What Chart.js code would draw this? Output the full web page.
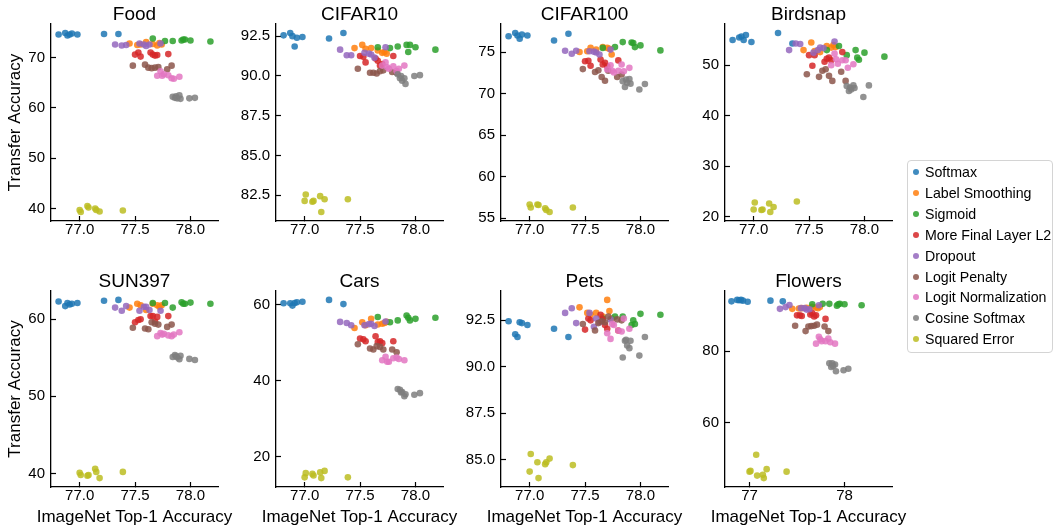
<!DOCTYPE html>
<html>
<head>
<meta charset="utf-8">
<script src="https://cdn.jsdelivr.net/npm/chart.js@4.4.0/dist/chart.umd.min.js"></script>
<style>
  body { margin: 0; background: #fff; width: 1055px; height: 529px; position: relative; overflow: hidden;
         font-family: "Liberation Sans", Arial, Helvetica, sans-serif; }
  .panel { position: absolute; }
  #legend { position: absolute; left: 907px; top: 160px; width: 146px; height: 193px;
            border: 1px solid #d4d4d4; border-radius: 4px; box-sizing: border-box; background: #fff; }
  #legend .item { position: absolute; left: 17px; font-size: 14.2px; color: #000; line-height: 16px; white-space: nowrap; }
  #legend .dot { position: absolute; left: 5px; width: 6px; height: 6px; border-radius: 50%; }
</style>
</head>
<body>
<script>
// loss functions, in plotting order
const methods = ['Softmax', 'Label Smoothing', 'Sigmoid', 'More Final Layer L2', 'Dropout',
                 'Logit Penalty', 'Logit Normalization', 'Cosine Softmax', 'Squared Error'];
const colors = ['31,119,180', '255,127,14', '44,160,44', '214,39,40', '148,103,189',
                '140,86,75', '227,119,194', '127,127,127', '188,189,34'];

// ImageNet top-1 accuracy of each trained model (same models in every panel)
const imagenetAcc = [
  [76.81, 76.87, 76.89, 76.91, 76.93, 76.98, 77.22, 77.35],
  [77.45, 77.52, 77.55, 77.60, 77.66, 77.70, 77.72, 77.74],
  [77.66, 77.77, 77.84, 77.92, 77.935, 77.95, 78.00, 78.18],
  [77.50, 77.53, 77.55, 77.64, 77.66, 77.68, 77.70, 77.80],
  [77.32, 77.38, 77.42, 77.54, 77.58, 77.60, 77.63, 77.73],
  [77.48, 77.59, 77.62, 77.65, 77.68, 77.71, 77.79, 77.83],
  [77.70, 77.73, 77.745, 77.76, 77.80, 77.83, 77.85, 77.90],
  [77.84, 77.86, 77.87, 77.88, 77.90, 77.91, 77.99, 78.04],
  [77.00, 77.01, 77.07, 77.08, 77.14, 77.15, 77.18, 77.39]
];

// transfer accuracy, one row per loss
const foodAcc = [
  [74.6, 74.9, 74.4, 74.6, 74.8, 74.6, 74.7, 74.7],
  [72.8, 72.5, 72.6, 73.1, 72.7, 72.4, 72.9, 72.6],
  [73.8, 73.3, 73.3, 73.4, 73.6, 73.6, 73.4, 73.2],
  [70.6, 71.0, 70.2, 71.0, 70.6, 70.4, 70.5, 70.7],
  [72.6, 72.4, 72.5, 72.8, 72.6, 72.3, 72.6, 72.8],
  [68.4, 68.6, 68.0, 67.9, 68.0, 68.1, 67.7, 68.4],
  [66.4, 67.3, 66.4, 66.7, 66.5, 65.9, 65.8, 66.2],
  [62.2, 62.0, 62.3, 61.9, 62.5, 61.8, 61.9, 62.0],
  [39.7, 39.3, 40.5, 40.2, 40.0, 39.7, 39.4, 39.6]
];
const cifar10Acc = [
  [92.55, 92.7, 92.5, 91.85, 92.4, 92.45, 92.35, 92.7],
  [91.75, 91.95, 91.7, 91.75, 91.6, 91.45, 91.5, 91.4],
  [91.8, 91.75, 91.85, 91.95, 91.5, 91.95, 91.8, 91.65],
  [91.25, 91.2, 90.85, 91.1, 90.95, 90.65, 90.75, 91.25],
  [91.65, 91.3, 91.3, 91.45, 91.4, 91.35, 91.15, 91.8],
  [90.45, 90.2, 90.2, 90.15, 90.3, 90.35, 90.25, 90.2],
  [90.65, 90.85, 90.55, 90.45, 90.6, 90.3, 90.45, 90.65],
  [90.1, 89.85, 90.0, 89.7, 89.85, 89.5, 90.0, 90.05],
  [82.15, 82.55, 82.1, 82.15, 82.45, 81.45, 82.25, 82.25]
];
const cifar100Acc = [
  [76.9, 77.3, 77.0, 76.6, 77.1, 77.0, 76.4, 77.2],
  [75.0, 75.1, 75.5, 75.3, 75.6, 75.5, 75.4, 74.7],
  [75.5, 75.6, 76.2, 76.15, 76.1, 75.6, 75.8, 75.2],
  [73.9, 73.95, 73.35, 74.1, 73.5, 73.7, 73.3, 74.0],
  [75.15, 74.8, 75.15, 75.1, 75.05, 74.95, 74.7, 75.3],
  [72.95, 72.6, 72.8, 72.0, 71.55, 72.75, 72.0, 72.3],
  [72.9, 73.4, 72.75, 72.55, 72.75, 73.5, 72.7, 73.1],
  [71.5, 70.8, 71.7, 71.3, 71.75, 71.2, 70.5, 71.15],
  [56.65, 56.3, 56.65, 56.6, 56.2, 56.0, 55.75, 56.3]
];
const birdsnapAcc = [
  [55.0, 55.5, 55.7, 55.0, 56.0, 54.6, 56.4, 54.3],
  [53.0, 54.5, 52.8, 52.6, 53.8, 53.5, 54.0, 53.6],
  [53.0, 53.8, 52.0, 53.0, 51.5, 51.1, 52.5, 51.7],
  [52.0, 49.9, 52.0, 50.7, 51.3, 51.5, 51.0, 52.6],
  [53.0, 54.3, 54.2, 52.5, 53.0, 53.5, 53.4, 54.7],
  [48.2, 47.7, 48.9, 49.2, 47.9, 46.9, 48.7, 46.9],
  [50.0, 52.3, 51.2, 50.3, 51.0, 51.0, 49.5, 50.2],
  [45.9, 44.9, 45.6, 45.2, 46.0, 45.5, 43.7, 46.0],
  [21.4, 22.8, 21.3, 21.4, 22.6, 20.9, 21.9, 23.0]
];
const sun397Acc = [
  [62.3, 61.7, 62.1, 61.9, 62.0, 62.1, 62.4, 62.5],
  [61.5, 62.0, 61.8, 61.2, 62.0, 61.8, 61.6, 61.8],
  [62.1, 62.1, 61.5, 62.2, 62.0, 62.0, 62.15, 62.0],
  [59.6, 59.9, 60.0, 60.4, 60.4, 59.7, 60.3, 60.4],
  [61.5, 61.1, 61.7, 61.1, 61.6, 61.6, 61.2, 61.1],
  [58.9, 58.8, 58.7, 59.6, 59.4, 59.3, 59.0, 59.3],
  [57.8, 58.2, 58.0, 58.1, 57.9, 57.8, 58.0, 58.3],
  [55.1, 55.35, 55.2, 55.05, 54.8, 55.25, 54.85, 54.7],
  [40.1, 39.8, 39.7, 39.8, 40.6, 40.2, 39.4, 40.2]
];
const carsAcc = [
  [60.4, 60.4, 59.8, 60.5, 60.7, 60.8, 61.3, 60.2],
  [53.9, 55.4, 54.6, 56.3, 54.8, 55.0, 55.2, 55.5],
  [56.8, 55.4, 55.9, 57.2, 56.6, 55.9, 56.3, 56.6],
  [51.1, 50.9, 50.4, 51.7, 50.2, 50.4, 49.9, 50.4],
  [55.5, 55.2, 54.6, 54.6, 54.9, 55.0, 54.4, 55.6],
  [49.6, 48.5, 48.2, 49.1, 48.9, 48.2, 48.2, 47.5],
  [45.4, 46.3, 45.0, 45.0, 45.9, 46.1, 45.7, 45.4],
  [37.8, 37.6, 36.9, 37.0, 35.9, 36.4, 36.3, 36.7],
  [14.5, 15.6, 15.4, 15.0, 15.8, 14.3, 16.2, 14.5]
];
const petsAcc = [
  [92.45, 91.75, 91.6, 92.4, 92.35, 92.25, 92.05, 91.6],
  [93.2, 92.9, 92.8, 92.9, 92.7, 93.6, 93.0, 92.6],
  [92.6, 92.7, 92.7, 92.25, 92.5, 92.3, 92.85, 92.8],
  [92.0, 92.6, 92.5, 92.8, 92.55, 92.25, 92.05, 91.95],
  [92.9, 93.15, 92.35, 92.9, 92.15, 92.6, 92.4, 92.55],
  [92.3, 91.95, 92.35, 92.45, 92.4, 92.7, 92.55, 92.5],
  [91.8, 91.5, 92.3, 92.25, 91.95, 91.9, 92.6, 92.05],
  [90.5, 91.4, 91.45, 91.15, 91.0, 91.4, 90.6, 91.6],
  [84.35, 85.3, 84.85, 84.0, 84.75, 84.85, 85.05, 84.7]
];
const flowersAcc = [
  [93.9, 94.3, 94.2, 94.3, 94.1, 93.8, 94.1, 93.9],
  [91.8, 91.9, 92.0, 92.1, 92.4, 92.2, 92.0, 92.3],
  [93.1, 93.2, 93.2, 92.7, 93.1, 93.2, 93.1, 92.8],
  [90.0, 90.0, 89.8, 90.2, 90.6, 89.7, 90.0, 89.0],
  [91.8, 92.3, 92.9, 92.0, 92.0, 91.6, 91.7, 92.8],
  [87.1, 85.6, 86.9, 87.0, 87.1, 87.4, 86.9, 85.6],
  [82.1, 84.0, 83.3, 82.8, 82.8, 83.5, 82.5, 82.1],
  [76.6, 75.6, 76.6, 75.9, 76.3, 74.4, 74.7, 75.1],
  [46.4, 46.6, 51.1, 45.3, 45.5, 44.6, 47.1, 46.4]
];

// tick labels
const xTicks = [77.0, 77.5, 78.0];
const xTicksFlowers = [77, 78];
const foodTicks = [40, 50, 60, 70];
const cifar10Ticks = [82.5, 85.0, 87.5, 90.0, 92.5];
const cifar100Ticks = [55, 60, 65, 70, 75];
const birdsnapTicks = [20, 30, 40, 50];
const sun397Ticks = [40, 50, 60];
const carsTicks = [20, 40, 60];
const petsTicks = [85.0, 87.5, 90.0, 92.5];
const flowersTicks = [60, 80];

const panels = [
  { title: 'Food',     acc: foodAcc,     yt: foodTicks,     yDec: 0 },
  { title: 'CIFAR10',  acc: cifar10Acc,  yt: cifar10Ticks,  yDec: 1 },
  { title: 'CIFAR100', acc: cifar100Acc, yt: cifar100Ticks, yDec: 0 },
  { title: 'Birdsnap', acc: birdsnapAcc, yt: birdsnapTicks, yDec: 0 },
  { title: 'SUN397',   acc: sun397Acc,   yt: sun397Ticks,   yDec: 0 },
  { title: 'Cars',     acc: carsAcc,     yt: carsTicks,     yDec: 0 },
  { title: 'Pets',     acc: petsAcc,     yt: petsTicks,     yDec: 1 },
  { title: 'Flowers',  acc: flowersAcc,  yt: flowersTicks,  yDec: 0, flowers: true }
];

// matplotlib-style autoscale: data range plus 5% each side
function limits(arrs) {
  const all = arrs.flat();
  const lo = Math.min(...all), hi = Math.max(...all), m = (hi - lo) * 0.05;
  return [lo - m, hi + m];
}

const plotLefts = [51, 276, 501, 725];
Chart.defaults.font.family = '"Liberation Sans", Arial, Helvetica, sans-serif';
Chart.defaults.color = '#000';

panels.forEach((p, k) => {
  const row = Math.floor(k / 4), col = k % 4;
  const canvasTop = row === 0 ? 0 : 267;
  const canvasH = row === 0 ? 260 : 262;
  // bottom row has the x title below the tick labels
  const xAxisH = row === 0 ? 39 : 20.6;
  const div = document.createElement('div');
  div.className = 'panel';
  div.style.left = (plotLefts[col] - 50) + 'px';
  div.style.top = canvasTop + 'px';
  const cv = document.createElement('canvas');
  // 50px axis box on each side so full-width titles centre on the plot area
  cv.width = 267; cv.height = canvasH;
  div.appendChild(cv);
  document.body.appendChild(div);

  let [xMin, xMax] = limits(imagenetAcc);
  if (p.flowers) xMax = 78.5;
  const [yMin, yMax] = limits(p.acc);
  const xt = p.flowers ? xTicksFlowers : xTicks;
  const xDec = p.flowers ? 0 : 1;

  new Chart(cv, {
    type: 'scatter',
    data: {
      datasets: methods.map((m, i) => ({
        label: m,
        data: imagenetAcc[i].map((x, j) => ({ x: x, y: p.acc[i][j] })),
        backgroundColor: 'rgba(' + colors[i] + ',0.85)',
        borderWidth: 0,
        pointRadius: 3.3,
        order: -i
      }))
    },
    options: {
      responsive: false,
      animation: false,
      events: [],
      layout: { padding: 0 },
      plugins: {
        legend: { display: false },
        tooltip: { enabled: false },
        title: { display: true, text: p.title, color: '#000',
                 font: { size: 19, weight: 'normal', lineHeight: 1 }, padding: { top: 5, bottom: 0 } },
        subtitle: { display: row === 1, position: 'bottom', text: 'ImageNet Top-1 Accuracy', color: '#000',
                    font: { size: 17, weight: 'normal', lineHeight: 1.2 }, padding: { top: 0, bottom: 1 } }
      },
      scales: {
        x: {
          type: 'linear', min: xMin, max: xMax,
          afterBuildTicks: s => { s.ticks = xt.map(v => ({ value: v })); },
          afterFit: s => { s.height = xAxisH; },
          ticks: { callback: v => v.toFixed(xDec), font: { size: 15 }, color: '#000',
                   padding: 5, maxRotation: 0, autoSkip: false },
          grid: { drawOnChartArea: false, drawTicks: true, tickLength: -5, tickColor: '#000', tickWidth: 1.2 },
          border: { display: true, color: '#000', width: 1.3 }
        },
        y: {
          type: 'linear', min: yMin, max: yMax,
          afterBuildTicks: s => { s.ticks = p.yt.map(v => ({ value: v })); },
          afterFit: s => { s.width = 50; },
          ticks: { callback: v => v.toFixed(p.yDec), font: { size: 15 }, color: '#000',
                   padding: 11, autoSkip: false },
          grid: { drawOnChartArea: false, drawTicks: true, tickLength: -5, tickColor: '#000', tickWidth: 1.2 },
          border: { display: true, color: '#000', width: 1.3 },
          title: { display: col === 0, text: 'Transfer Accuracy', color: '#000',
                   font: { size: 17 }, padding: { top: 4, bottom: 0 } }
        },
        // empty spacer on the right, mirrors the y axis width
        yRight: {
          type: 'linear', position: 'right', display: true,
          afterFit: s => { s.width = 50; },
          ticks: { display: false },
          grid: { display: false },
          border: { display: false }
        }
      }
    }
  });
});

// legend box, on top of the panels
const legend = document.createElement('div');
legend.id = 'legend';
document.body.appendChild(legend);
methods.forEach((m, i) => {
  const cy = 11 + i * 20.9;
  const dot = document.createElement('div');
  dot.className = 'dot';
  dot.style.top = (cy - 3) + 'px';
  dot.style.background = 'rgba(' + colors[i] + ',0.85)';
  legend.appendChild(dot);
  const t = document.createElement('div');
  t.className = 'item';
  t.style.top = (cy - 8) + 'px';
  t.textContent = m;
  legend.appendChild(t);
});
</script>
</body>
</html>
